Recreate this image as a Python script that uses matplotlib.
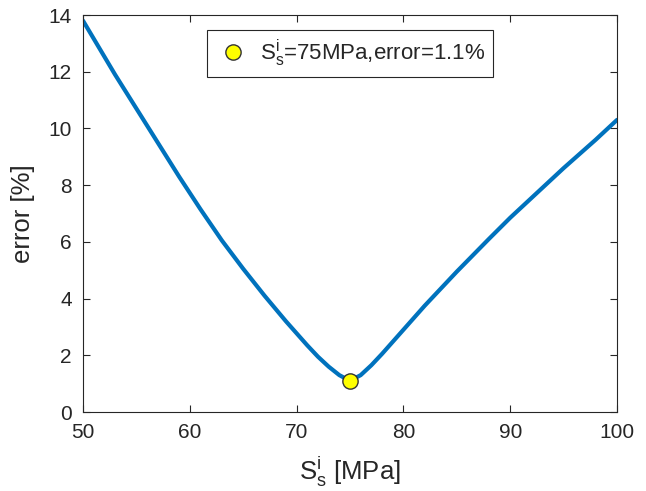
import matplotlib
matplotlib.use("Agg")
import matplotlib.pyplot as plt

# Data
stress = [50, 53, 56, 59, 61, 63, 65, 67, 69, 71, 72, 73, 74, 75, 76, 77, 78, 80,
          82, 85, 88, 90, 92, 95, 98, 100]
error = [13.8, 11.9, 10.1, 8.3, 7.15, 6.05, 5.05, 4.1, 3.2, 2.35, 1.95, 1.6, 1.3, 1.1,
         1.3, 1.65, 2.05, 2.9, 3.75, 4.95, 6.1, 6.85, 7.55, 8.6, 9.6, 10.3]
opt_stress = [75]
opt_error = [1.1]
xticks = [50, 60, 70, 80, 90, 100]
yticks = [0, 2, 4, 6, 8, 10, 12, 14]

plt.rcParams['font.family'] = ['Liberation Sans', 'DejaVu Sans']
plt.rcParams['mathtext.fontset'] = 'custom'
plt.rcParams['mathtext.rm'] = 'Liberation Sans'
plt.rcParams['mathtext.it'] = 'Liberation Sans'

axcol = '#262626'
fig = plt.figure(figsize=(6.46, 4.91), dpi=100)
ax = fig.add_axes([83/646, 1-412/491, (617-83)/646, (412-15)/491])

ax.plot(stress, error, color='#0072BD', lw=3, solid_capstyle='round',
        solid_joinstyle='round')
ax.plot(opt_stress, opt_error, 'o', color='#FFFF00', markeredgecolor='#333333',
        markersize=11, markeredgewidth=1.0, linestyle='none',
        label=r'S$^{\mathrm{i}}_{\mathrm{s}}$=75MPa,error=1.1%')

ax.set_xlim(50, 100)
ax.set_ylim(0, 14)
ax.set_xticks(xticks)
ax.set_yticks(yticks)
ax.tick_params(direction='in', length=5, width=0.8, colors=axcol, labelsize=15,
               top=True, right=True, pad=8)
for s in ax.spines.values():
    s.set_color(axcol)
    s.set_linewidth(0.8)

ax.set_xlabel(r'S$^{\mathrm{i}}_{\mathrm{s}}$ [MPa]', fontsize=18.5, color=axcol, labelpad=9)
ax.set_ylabel('error [%]', fontsize=18.5, color=axcol, labelpad=10)

leg = ax.legend(loc='upper center', bbox_to_anchor=(0.5, 0.962), borderaxespad=0,
                fontsize=16, fancybox=False, edgecolor=axcol, framealpha=1,
                handletextpad=0.4, borderpad=0.35, handlelength=1.6)
leg.get_frame().set_linewidth(0.8)
for t in leg.get_texts():
    t.set_color(axcol)

fig.savefig('out.png', dpi=100)
